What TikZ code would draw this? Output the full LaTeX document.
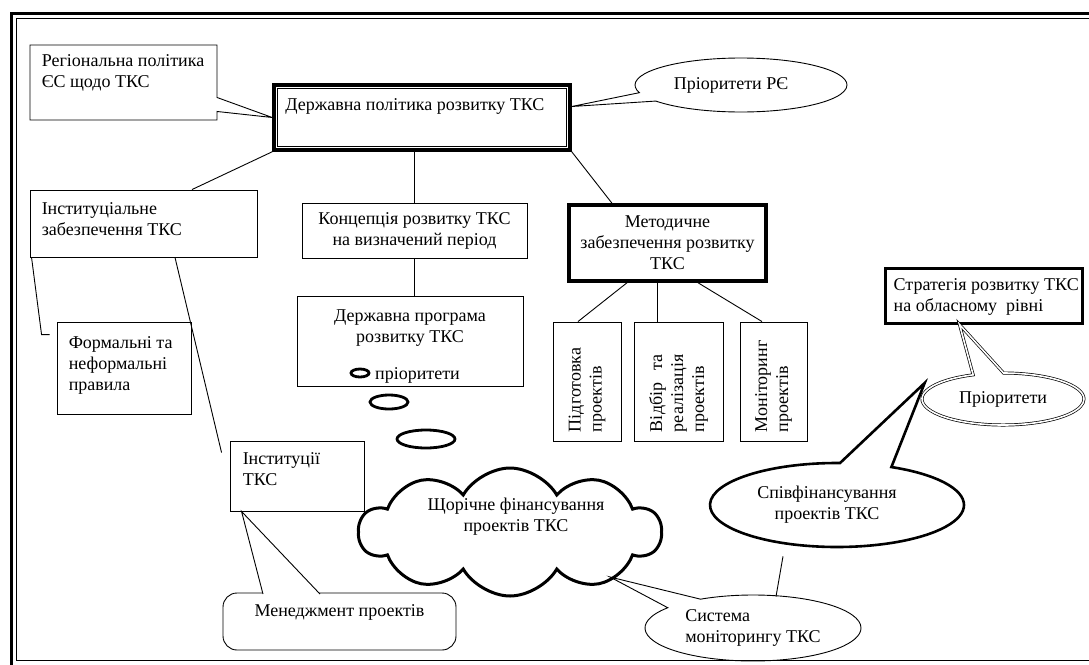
\documentclass[tikz,border=0pt]{standalone}
\usepackage{fontspec}
\setmainfont{Liberation Serif}
\usetikzlibrary{shapes.callouts, shapes.symbols, shapes.geometric, positioning}

\begin{document}
\begin{tikzpicture}[x=1pt, y=-1pt,
    every node/.style={font=\fontsize{18}{21}\selectfont, inner sep=0pt, align=center},
    box/.style={draw, line width=0.9pt, rectangle},
    boldbox/.style={draw, line width=3.5pt, rectangle},
    bubble/.style={draw, line width=2.8pt, ellipse},
    inlab/.style 2 args={anchor=north west, align=left, xshift=#1, yshift=-#2},
    toplab/.style={anchor=north, yshift=-#1},
    link/.style={line width=0.9pt}]

    % Frame
    \useasboundingbox (0,0) rectangle (1089,664);
    \draw[line width=3pt] (11.5,13.5) rectangle (1100,675);
    \draw[line width=1.2pt] (16.5,18.5) rectangle (1095,660.5);

    % State policy (top)
    \node[boldbox, minimum width=296, minimum height=65,
        label={[inlab={13pt}{15pt}]north west:Державна політика розвитку ТКС}] (dp) at (422,117.5) {};
    \draw[link] ([shift={(5,5)}]dp.north west) rectangle ([shift={(-5,-5)}]dp.south east);

    \node[rectangle callout, draw, line width=0.9pt, minimum width=187, minimum height=75,
        callout absolute pointer={(dp.west)}, callout pointer width=14pt,
        label={[inlab={12pt}{10pt}]north west:Регіональна політика\\ЄС щодо ТКС}] (rp) at (123.5,82.5) {};
    \node[ellipse callout, draw, line width=0.9pt, minimum width=212, minimum height=54,
        callout absolute pointer={([yshift=11pt]dp.east)}, callout pointer arc=20] (pr) at (741,85) {\hspace*{-20pt}Пріоритети РЄ};

    % Left column
    \node[box, minimum width=227, minimum height=67,
        label={[inlab={12pt}{13pt}]north west:Інституціальне\\забезпечення ТКС}] (inst) at (143.5,223.5) {};
    \node[box, minimum width=134, minimum height=92,
        label={[inlab={12pt}{15pt}]north west:Формальні та\\неформальні\\правила}] (form) at (124,368) {};
    \node[box, minimum width=134, minimum height=70,
        label={[inlab={13pt}{12pt}]north west:Інституції\\ТКС}] (instk) at (297,476) {};
    \draw[link] (dp.south west) -- ([xshift=48.5pt]inst.north);
    \draw[link] ([xshift=2pt]inst.south west) -- ([xshift=-15pt,yshift=-13pt]form.north west)
        -- ([xshift=-7pt,yshift=-13pt]form.north west);
    \draw[link] ([xshift=31.5pt]inst.south) -- ([xshift=-8pt,yshift=-12pt]instk.north west);

    % Middle column
    \node[box, minimum width=225, minimum height=55] (conc) at (414.5,230.5) {Концепція розвитку ТКС\\на визначений період};
    \node[box, minimum width=226, minimum height=90,
        label={[toplab=14pt]north:Державна програма\\розвитку ТКС}] (prog) at (410,341) {};
    \node[anchor=base west] (prior) at (375,379) {пріоритети};
    \draw[link] (conc.north) -- (conc.north |- dp.south);
    \draw[link] (conc.south) -- (conc.south |- prog.north);

    % Thought bubbles
    \node[bubble, minimum width=18, minimum height=8] (b1) at (360,373) {};
    \node[bubble, minimum width=38, minimum height=14] (b2) at (389,402) {};
    \node[bubble, minimum width=58, minimum height=18] (b3) at (426,439) {};

    % Methodical support
    \node[boldbox, minimum width=197, minimum height=76] (meth) at (667.5,243) {Методичне\\забезпечення розвитку\\ТКС};
    \draw[link] (dp.south east) -- ([xshift=-55.5pt]meth.north);
    \node[box, rotate=90, minimum width=119, minimum height=68, text width=101pt, inner xsep=9pt, align=left] (sub1) at (587,381.5) {Підготовка\\проектів};
    \node[box, rotate=90, minimum width=119, minimum height=89, text width=101pt, inner xsep=9pt, align=left] (sub2) at (678.5,381.5) {Відбір\ \ та\\реалізація\\проектів};
    \node[box, rotate=90, minimum width=119, minimum height=67, text width=101pt, inner xsep=9pt, align=left] (sub3) at (773.5,381.5) {Моніторинг\\проектів};
    \draw[link] ([xshift=-40.5pt]meth.south) -- ([xshift=-9pt]sub1.east);
    \draw[link] ([xshift=-10.5pt]meth.south) -- ([xshift=-21.5pt]sub2.east);
    \draw[link] ([xshift=30.5pt]meth.south) -- ([xshift=-11.5pt]sub3.east);

    % Regional strategy
    \node[draw, line width=3pt, rectangle, minimum width=197, minimum height=55,
        label={[inlab={10pt}{12pt}]north west:Стратегія розвитку ТКС\\на обласному\ \ рівні}] (strat) at (983.5,295.5) {};
    \node[ellipse callout, draw, double, double distance=1.6pt, line width=0.7pt, minimum width=162, minimum height=52,
        callout absolute pointer={([xshift=-24pt]strat.south)}, callout pointer arc=22] (pr2) at (1003,399) {Пріоритети};

    % Financing
    \node[cloud, draw, line width=3pt, cloud puffs=10, cloud puff arc=120, cloud ignores aspect,
        minimum width=302, minimum height=128] (fin) at (510,532) {};
    \node (fintxt) at ([xshift=6pt,yshift=15pt]fin.center) {Щорічне фінансування\\проектів ТКС};
    \node[ellipse callout, draw, line width=2.6pt, minimum width=254, minimum height=84,
        callout absolute pointer={([xshift=3pt,yshift=16pt]pr2.west)}, callout pointer arc=24] (cof) at (837,505) {\hspace*{-20pt}Співфінансування\\\hspace*{-20pt}проектів ТКС};
    \node[ellipse callout, draw, line width=0.9pt, minimum width=216, minimum height=66, align=left,
        callout absolute pointer={([xshift=100pt,yshift=-45pt]fin.center)}, callout pointer arc=23] (sys) at (753,628) {Система\\моніторингу ТКС};
    \draw[link] ([xshift=-54pt,yshift=-8pt]cof.south) -- ([xshift=23pt,yshift=-2pt]sys.north);

    % Project management
    \node[draw, line width=0.9pt, rectangle, rounded corners=14pt, minimum width=233, minimum height=57,
        label={[toplab=12pt]north:Менеджмент проектів}] (mgmt) at (339.5,621.5) {};
    \filldraw[link, fill=white] ([xshift=-76.5pt,yshift=-1.5pt]mgmt.north) -- ([xshift=12pt]instk.south west)
        -- ([xshift=-19.5pt,yshift=-1.5pt]mgmt.north);
\end{tikzpicture}
\end{document}
